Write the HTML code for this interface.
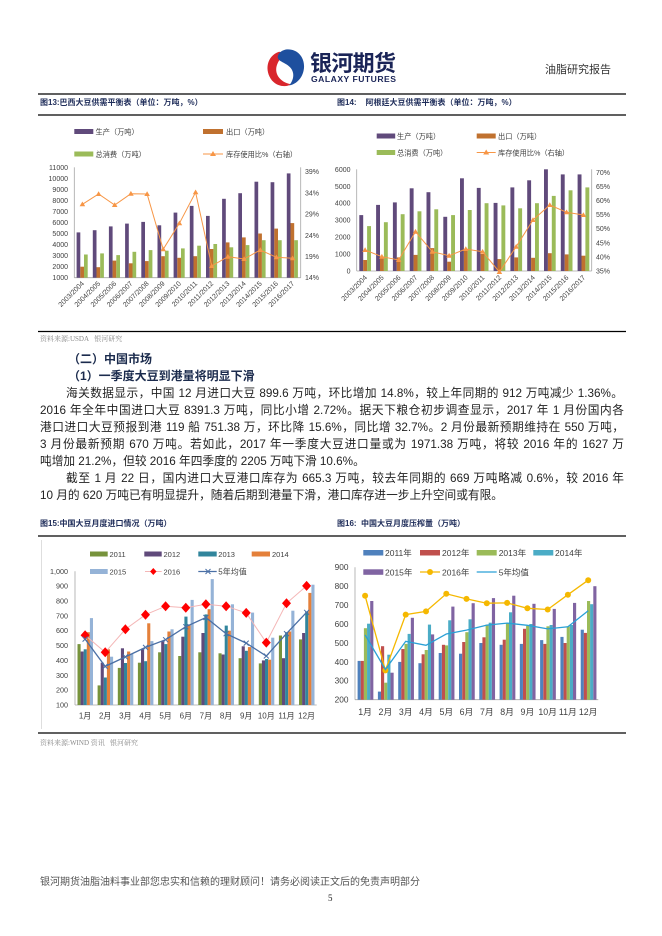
<!DOCTYPE html>
<html><head><meta charset="utf-8">
<style>
html,body{margin:0;padding:0;background:#fff;}
body{width:662px;height:936px;position:relative;overflow:hidden;font-family:"Liberation Sans","Noto Sans CJK SC",sans-serif;}
.a{position:absolute;white-space:nowrap;}
.ln{position:absolute;height:16px;line-height:16px;font-size:11.7px;color:#222;white-space:nowrap;}
.j{text-align:justify;text-align-last:justify;white-space:normal;overflow:hidden;}
.tt{position:absolute;font-size:8px;font-weight:bold;color:#1f2d5a;line-height:10px;white-space:nowrap;}
.src{position:absolute;font-size:7px;color:#8a8a8a;font-family:"Liberation Serif","Noto Serif CJK SC",serif;line-height:9px;white-space:nowrap;}
.h{position:absolute;font-size:12px;font-weight:bold;color:#1b2b4d;line-height:16px;white-space:nowrap;}
svg{position:absolute;left:0;top:0;}
</style></head><body>
<svg width="662" height="936" viewBox="0 0 662 936" font-family="Liberation Sans, Noto Sans CJK SC, sans-serif">
<defs>
<marker id="tri" markerUnits="userSpaceOnUse" markerWidth="8" markerHeight="8" refX="4" refY="4" viewBox="0 0 8 8"><path d="M4,1.2 L6.8,6 L1.2,6Z" fill="#f79646"/></marker>
<marker id="dia" markerUnits="userSpaceOnUse" markerWidth="11" markerHeight="11" refX="5.5" refY="5.5" viewBox="0 0 11 11"><path d="M5.5,0.5 L10,5.5 L5.5,10.5 L1,5.5Z" fill="#ff0000"/></marker>
<marker id="xm" markerUnits="userSpaceOnUse" markerWidth="8" markerHeight="8" refX="4" refY="4" viewBox="0 0 8 8"><path d="M1.5,1.5 L6.5,6.5 M6.5,1.5 L1.5,6.5" stroke="#4a6fa5" stroke-width="1"/></marker>
<marker id="cir" markerUnits="userSpaceOnUse" markerWidth="8" markerHeight="8" refX="4" refY="4" viewBox="0 0 8 8"><circle cx="4" cy="4" r="3" fill="#f5b800"/></marker>
</defs>

<!-- Logo -->
<g transform="translate(285,68) rotate(-10)">
<path d="M -3,-17 C -16,-15 -21,-1 -15,10 C -10,18 -1,19 3,17 C -8,13 -12,3 -7,-5 C -4,-10 0,-13 5,-14 Z" fill="#d9262c"/>
<path d="M 5,-18 C 15,-17 21,-8 19,2 C 17,12 9,18 1,18 C 7,13 9,6 5,0 C 1,-6 -7,-8 -5,-13 C -3,-17 1,-18 5,-18 Z" fill="#1e4f9e"/>
</g>
<text x="310" y="71" font-size="22" font-weight="bold" fill="#1a2457" textLength="86">银河期货</text>
<text x="311" y="82" font-size="8.6" font-weight="bold" fill="#1a2457" textLength="85">GALAXY FUTURES</text>

<!-- section lines -->
<g stroke="#000" stroke-width="1.2">
<line x1="38" y1="94" x2="626" y2="94"/>
<line x1="38" y1="115" x2="626" y2="115"/>
<line x1="38" y1="331.5" x2="626" y2="331.5"/>
<line x1="38" y1="536" x2="626" y2="536"/>
<line x1="38" y1="733" x2="626" y2="733"/>
</g>

<!-- ================= Chart 13 ================= -->
<g font-size="7.2" fill="#404040">
<rect x="74.3" y="129" width="19" height="5" fill="#604a7b"/><text x="95.5" y="134.5">生产（万吨）</text>
<rect x="203" y="129" width="20" height="5" fill="#c0712f"/><text x="226" y="134.5">出口（万吨）</text>
<rect x="74.3" y="151.5" width="19" height="5" fill="#9bbb59"/><text x="95.5" y="157">总消费（万吨）</text>
<line x1="203" y1="154" x2="223" y2="154" stroke="#f79646" stroke-width="1"/><path d="M213,151 L216,156 L210,156Z" fill="#f79646"/><text x="226" y="157">库存使用比%（右轴）</text>
</g>
<g stroke="#a6a6a6" stroke-width="0.8">
<line x1="74.3" y1="167.3" x2="74.3" y2="277.7"/>
<line x1="74.3" y1="277.7" x2="300.7" y2="277.7"/>
<line x1="300.7" y1="167.3" x2="300.7" y2="277.7"/>
</g>
<g font-size="7" fill="#404040" text-anchor="end">
<text x="68" y="280.2">1000</text><text x="68" y="269.2">2000</text><text x="68" y="258.1">3000</text><text x="68" y="247.1">4000</text><text x="68" y="236">5000</text><text x="68" y="225">6000</text><text x="68" y="214">7000</text><text x="68" y="202.9">8000</text><text x="68" y="191.9">9000</text><text x="68" y="180.8">10000</text><text x="68" y="169.8">11000</text>
</g>
<g font-size="7" fill="#404040">
<text x="305" y="280.2">14%</text><text x="305" y="259">19%</text><text x="305" y="237.8">24%</text><text x="305" y="216.6">29%</text><text x="305" y="195.4">34%</text><text x="305" y="174.2">39%</text>
</g>
<g fill="#604a7b">
<rect x="76.6" y="232.4" width="3.7" height="45.3"/><rect x="92.8" y="230.2" width="3.7" height="47.5"/><rect x="108.9" y="226.4" width="3.7" height="51.3"/><rect x="125.1" y="223.6" width="3.7" height="54.1"/><rect x="141.3" y="221.9" width="3.7" height="55.8"/><rect x="157.5" y="225.3" width="3.7" height="52.4"/><rect x="173.6" y="212.6" width="3.7" height="65.1"/><rect x="189.8" y="205.9" width="3.7" height="71.8"/><rect x="206" y="215.9" width="3.7" height="61.8"/><rect x="222.1" y="198.8" width="3.7" height="78.9"/><rect x="238.3" y="193.2" width="3.7" height="84.5"/><rect x="254.5" y="181.7" width="3.7" height="96"/><rect x="270.6" y="182.2" width="3.7" height="95.5"/><rect x="286.8" y="173.4" width="3.7" height="104.3"/>
</g>
<g fill="#c0712f">
<rect x="80.3" y="266.7" width="3.7" height="11"/><rect x="96.5" y="267.2" width="3.7" height="10.5"/><rect x="112.6" y="260.6" width="3.7" height="17.1"/><rect x="128.8" y="263.3" width="3.7" height="14.4"/><rect x="145" y="261.1" width="3.7" height="16.6"/><rect x="161.2" y="256.2" width="3.7" height="21.5"/><rect x="177.3" y="257.8" width="3.7" height="19.9"/><rect x="193.5" y="256.2" width="3.7" height="21.5"/><rect x="209.7" y="249" width="3.7" height="28.7"/><rect x="225.8" y="242.4" width="3.7" height="35.3"/><rect x="242" y="237.4" width="3.7" height="40.3"/><rect x="258.2" y="233.5" width="3.7" height="44.2"/><rect x="274.3" y="228.6" width="3.7" height="49.1"/><rect x="290.5" y="223.1" width="3.7" height="54.6"/>
</g>
<g fill="#9bbb59">
<rect x="84" y="254.5" width="3.7" height="23.2"/><rect x="100.2" y="253.4" width="3.7" height="24.3"/><rect x="116.3" y="255.1" width="3.7" height="22.6"/><rect x="132.5" y="251.8" width="3.7" height="25.9"/><rect x="148.7" y="250.1" width="3.7" height="27.6"/><rect x="164.9" y="250.7" width="3.7" height="27"/><rect x="181" y="248.4" width="3.7" height="29.3"/><rect x="197.2" y="245.7" width="3.7" height="32"/><rect x="213.4" y="244" width="3.7" height="33.7"/><rect x="229.5" y="247.3" width="3.7" height="30.4"/><rect x="245.7" y="245.1" width="3.7" height="32.6"/><rect x="261.9" y="240.2" width="3.7" height="37.5"/><rect x="278" y="240.2" width="3.7" height="37.5"/><rect x="294.2" y="240.2" width="3.7" height="37.5"/>
</g>
<polyline fill="none" stroke="#f79646" stroke-width="1" marker-start="url(#tri)" marker-mid="url(#tri)" marker-end="url(#tri)" points="82.4,204.3 98.6,194 114.7,205 130.9,193.7 147.1,194 163.2,249.3 179.4,223.3 195.6,192.3 211.7,266 227.9,256.7 244.1,259 260.3,250 276.4,257.3 292.6,258.3"/>
<g font-size="7" fill="#404040" text-anchor="end">
<text transform="translate(84.5,284) rotate(-45)">2003/2004</text>
<text transform="translate(100.7,284) rotate(-45)">2004/2005</text>
<text transform="translate(116.8,284) rotate(-45)">2005/2006</text>
<text transform="translate(133,284) rotate(-45)">2006/2007</text>
<text transform="translate(149.2,284) rotate(-45)">2007/2008</text>
<text transform="translate(165.3,284) rotate(-45)">2008/2009</text>
<text transform="translate(181.5,284) rotate(-45)">2009/2010</text>
<text transform="translate(197.7,284) rotate(-45)">2010/2011</text>
<text transform="translate(213.8,284) rotate(-45)">2011/2012</text>
<text transform="translate(230,284) rotate(-45)">2012/2013</text>
<text transform="translate(246.2,284) rotate(-45)">2013/2014</text>
<text transform="translate(262.4,284) rotate(-45)">2014/2015</text>
<text transform="translate(278.5,284) rotate(-45)">2015/2016</text>
<text transform="translate(294.7,284) rotate(-45)">2016/2017</text>
</g>

<!-- ================= Chart 14 ================= -->
<g font-size="7.2" fill="#404040">
<rect x="376.7" y="133.5" width="18.5" height="5" fill="#604a7b"/><text x="397" y="139">生产（万吨）</text>
<rect x="476.7" y="133.5" width="19" height="5" fill="#c0712f"/><text x="498" y="139">出口（万吨）</text>
<rect x="376.7" y="150" width="18.5" height="5" fill="#9bbb59"/><text x="397" y="155.5">总消费（万吨）</text>
<line x1="476.7" y1="152.5" x2="495.7" y2="152.5" stroke="#f79646" stroke-width="1"/><path d="M486.2,149.5 L489.2,154.5 L483.2,154.5Z" fill="#f79646"/><text x="498" y="155.5">库存使用比%（右轴）</text>
</g>
<g stroke="#a6a6a6" stroke-width="0.8">
<line x1="356.7" y1="169.3" x2="356.7" y2="271"/>
<line x1="356.7" y1="271" x2="591.7" y2="271"/>
<line x1="591.7" y1="169.3" x2="591.7" y2="271"/>
</g>
<g font-size="7" fill="#404040" text-anchor="end">
<text x="350.5" y="273.5">0</text><text x="350.5" y="256.6">1000</text><text x="350.5" y="239.6">2000</text><text x="350.5" y="222.7">3000</text><text x="350.5" y="205.7">4000</text><text x="350.5" y="188.8">5000</text><text x="350.5" y="171.8">6000</text>
</g>
<g font-size="7" fill="#404040">
<text x="596" y="273.5">35%</text><text x="596" y="259.4">40%</text><text x="596" y="245.3">45%</text><text x="596" y="231.2">50%</text><text x="596" y="217.1">55%</text><text x="596" y="203">60%</text><text x="596" y="188.9">65%</text><text x="596" y="174.8">70%</text>
</g>
<g fill="#604a7b">
<rect x="359.3" y="215.1" width="3.9" height="55.9"/><rect x="376.1" y="204.9" width="3.9" height="66.1"/><rect x="392.9" y="202.4" width="3.9" height="68.6"/><rect x="409.7" y="188.3" width="3.9" height="82.7"/><rect x="426.5" y="192.2" width="3.9" height="78.8"/><rect x="443.3" y="216.8" width="3.9" height="54.2"/><rect x="460" y="178.3" width="3.9" height="92.7"/><rect x="476.8" y="187.9" width="3.9" height="83.1"/><rect x="493.6" y="202.9" width="3.9" height="68.1"/><rect x="510.4" y="187.4" width="3.9" height="83.6"/><rect x="527.2" y="180.3" width="3.9" height="90.7"/><rect x="544" y="169.3" width="3.9" height="101.7"/><rect x="560.8" y="174.4" width="3.9" height="96.6"/><rect x="577.6" y="174.4" width="3.9" height="96.6"/>
</g>
<g fill="#c0712f">
<rect x="363.2" y="260" width="3.9" height="11"/><rect x="380" y="257.4" width="3.9" height="13.6"/><rect x="396.8" y="257.4" width="3.9" height="13.6"/><rect x="413.6" y="254.9" width="3.9" height="16.1"/><rect x="430.4" y="248.1" width="3.9" height="22.9"/><rect x="447.2" y="261.7" width="3.9" height="9.3"/><rect x="463.9" y="249" width="3.9" height="22"/><rect x="480.7" y="254" width="3.9" height="17"/><rect x="497.5" y="259.1" width="3.9" height="11.9"/><rect x="514.3" y="257.4" width="3.9" height="13.6"/><rect x="531.1" y="257.8" width="3.9" height="13.2"/><rect x="547.9" y="253.2" width="3.9" height="17.8"/><rect x="564.7" y="254.4" width="3.9" height="16.6"/><rect x="581.5" y="255.7" width="3.9" height="15.3"/>
</g>
<g fill="#9bbb59">
<rect x="367.1" y="226.1" width="3.9" height="44.9"/><rect x="383.9" y="222.2" width="3.9" height="48.8"/><rect x="400.7" y="214.2" width="3.9" height="56.8"/><rect x="417.5" y="211.3" width="3.9" height="59.7"/><rect x="434.3" y="209.3" width="3.9" height="61.7"/><rect x="451.1" y="215.1" width="3.9" height="55.9"/><rect x="467.8" y="210" width="3.9" height="61"/><rect x="484.6" y="203.2" width="3.9" height="67.8"/><rect x="501.4" y="205.4" width="3.9" height="65.6"/><rect x="518.2" y="208.3" width="3.9" height="62.7"/><rect x="535" y="203.2" width="3.9" height="67.8"/><rect x="551.8" y="195.9" width="3.9" height="75.1"/><rect x="568.6" y="190.3" width="3.9" height="80.7"/><rect x="585.4" y="187.4" width="3.9" height="83.6"/>
</g>
<polyline fill="none" stroke="#f79646" stroke-width="1" marker-start="url(#tri)" marker-mid="url(#tri)" marker-end="url(#tri)" points="365.1,250 381.9,256.7 398.7,260 415.5,231.7 432.3,251.7 449.1,255.7 465.8,249 482.6,251.7 499.4,272 516.2,246.7 533,220 549.8,205 566.6,212.3 583.4,215"/>
<g font-size="7" fill="#404040" text-anchor="end">
<text transform="translate(367.5,278) rotate(-45)">2003/2004</text>
<text transform="translate(384.3,278) rotate(-45)">2004/2005</text>
<text transform="translate(401.1,278) rotate(-45)">2005/2006</text>
<text transform="translate(417.9,278) rotate(-45)">2006/2007</text>
<text transform="translate(434.7,278) rotate(-45)">2007/2008</text>
<text transform="translate(451.5,278) rotate(-45)">2008/2009</text>
<text transform="translate(468.2,278) rotate(-45)">2009/2010</text>
<text transform="translate(485,278) rotate(-45)">2010/2011</text>
<text transform="translate(501.8,278) rotate(-45)">2011/2012</text>
<text transform="translate(518.6,278) rotate(-45)">2012/2013</text>
<text transform="translate(535.4,278) rotate(-45)">2013/2014</text>
<text transform="translate(552.2,278) rotate(-45)">2014/2015</text>
<text transform="translate(569,278) rotate(-45)">2015/2016</text>
<text transform="translate(585.8,278) rotate(-45)">2016/2017</text>
</g>

<!-- ================= Chart 15 ================= -->
<line x1="41.5" y1="540" x2="41.5" y2="729" stroke="#d6d6d6" stroke-width="0.8"/>
<g font-size="7.5" fill="#404040">
<rect x="90" y="551.5" width="17.7" height="5" fill="#77933c"/><text x="109.5" y="557">2011</text>
<rect x="144.3" y="551.5" width="17.4" height="5" fill="#604a7b"/><text x="163.5" y="557">2012</text>
<rect x="198.3" y="551.5" width="18.4" height="5" fill="#31859c"/><text x="218.3" y="557">2013</text>
<rect x="251.7" y="551.5" width="18.3" height="5" fill="#e4803a"/><text x="272" y="557">2014</text>
<rect x="90" y="569" width="17.7" height="5" fill="#95b3d7"/><text x="109.5" y="574.3">2015</text>
<line x1="145" y1="571.5" x2="161.7" y2="571.5" stroke="#f4b6b6" stroke-width="1"/><path d="M153.3,568 L156.5,571.5 L153.3,575 L150.1,571.5Z" fill="#ff0000"/><text x="163.5" y="574.3">2016</text>
<line x1="198.3" y1="571.5" x2="216.7" y2="571.5" stroke="#4a6fa5" stroke-width="1.2"/><path d="M205.5,569 L210.5,574 M210.5,569 L205.5,574" stroke="#4a6fa5" stroke-width="1"/><text x="218.3" y="574.3" font-size="8">5年均值</text>
</g>
<g stroke="#a6a6a6" stroke-width="0.8">
<line x1="75" y1="571.3" x2="75" y2="705"/>
<line x1="75" y1="705" x2="316.7" y2="705"/>
</g>
<g font-size="7.2" fill="#404040" text-anchor="end">
<text x="68" y="707.5">100</text><text x="68" y="692.6">200</text><text x="68" y="677.8">300</text><text x="68" y="662.9">400</text><text x="68" y="648.1">500</text><text x="68" y="633.2">600</text><text x="68" y="618.4">700</text><text x="68" y="603.5">800</text><text x="68" y="588.6">900</text><text x="68" y="573.8">1,000</text>
</g>
<g fill="#77933c">
<rect x="77.5" y="644.1" width="3.1" height="60.9"/><rect x="97.6" y="685.4" width="3.1" height="19.6"/><rect x="117.8" y="667.9" width="3.1" height="37.1"/><rect x="137.9" y="662.7" width="3.1" height="42.3"/><rect x="158.1" y="652.3" width="3.1" height="52.7"/><rect x="178.2" y="656" width="3.1" height="49"/><rect x="198.3" y="652.3" width="3.1" height="52.7"/><rect x="218.5" y="653.3" width="3.1" height="51.7"/><rect x="238.6" y="658.2" width="3.1" height="46.8"/><rect x="258.8" y="663.4" width="3.1" height="41.6"/><rect x="278.9" y="635.5" width="3.1" height="69.5"/><rect x="299" y="639.4" width="3.1" height="65.6"/>
</g>
<g fill="#604a7b">
<rect x="80.6" y="651.5" width="3.1" height="53.5"/><rect x="100.7" y="662.7" width="3.1" height="42.3"/><rect x="120.9" y="648.3" width="3.1" height="56.7"/><rect x="141" y="648.6" width="3.1" height="56.4"/><rect x="161.2" y="641.1" width="3.1" height="63.9"/><rect x="181.3" y="636.7" width="3.1" height="68.3"/><rect x="201.4" y="633" width="3.1" height="72"/><rect x="221.6" y="654.5" width="3.1" height="50.5"/><rect x="241.7" y="646.3" width="3.1" height="58.7"/><rect x="261.9" y="660.4" width="3.1" height="44.6"/><rect x="282" y="658.2" width="3.1" height="46.8"/><rect x="302.1" y="633" width="3.1" height="72"/>
</g>
<g fill="#31859c">
<rect x="83.7" y="649.3" width="3.1" height="55.7"/><rect x="103.8" y="677.5" width="3.1" height="27.5"/><rect x="124" y="663" width="3.1" height="42"/><rect x="144.1" y="661.2" width="3.1" height="43.8"/><rect x="164.3" y="644.1" width="3.1" height="60.9"/><rect x="184.4" y="616.6" width="3.1" height="88.4"/><rect x="204.5" y="614.4" width="3.1" height="90.6"/><rect x="224.7" y="625.6" width="3.1" height="79.4"/><rect x="244.8" y="650.8" width="3.1" height="54.2"/><rect x="265" y="659" width="3.1" height="46"/><rect x="285.1" y="632.2" width="3.1" height="72.8"/><rect x="305.2" y="611.4" width="3.1" height="93.6"/>
</g>
<g fill="#e4803a">
<rect x="86.8" y="632.2" width="3.1" height="72.8"/><rect x="106.9" y="649.3" width="3.1" height="55.7"/><rect x="127.1" y="651.5" width="3.1" height="53.5"/><rect x="147.2" y="623.3" width="3.1" height="81.7"/><rect x="167.4" y="631.5" width="3.1" height="73.5"/><rect x="187.5" y="624.8" width="3.1" height="80.2"/><rect x="207.6" y="609.2" width="3.1" height="95.8"/><rect x="227.8" y="630.7" width="3.1" height="74.3"/><rect x="247.9" y="647.1" width="3.1" height="57.9"/><rect x="268.1" y="659.7" width="3.1" height="45.3"/><rect x="288.2" y="631.5" width="3.1" height="73.5"/><rect x="308.3" y="592.9" width="3.1" height="112.1"/>
</g>
<g fill="#95b3d7">
<rect x="89.9" y="618.1" width="3.1" height="86.9"/><rect x="110" y="656.7" width="3.1" height="48.3"/><rect x="130.2" y="653.8" width="3.1" height="51.2"/><rect x="150.3" y="641.1" width="3.1" height="63.9"/><rect x="170.5" y="629.3" width="3.1" height="75.7"/><rect x="190.6" y="599.9" width="3.1" height="105.1"/><rect x="210.7" y="579.1" width="3.1" height="125.9"/><rect x="230.9" y="604.3" width="3.1" height="100.7"/><rect x="251" y="612.6" width="3.1" height="92.4"/><rect x="271.2" y="637.7" width="3.1" height="67.3"/><rect x="291.3" y="610.7" width="3.1" height="94.3"/><rect x="311.4" y="584.7" width="3.1" height="120.3"/>
</g>
<polyline fill="none" stroke="#f4b6b6" stroke-width="1" marker-start="url(#dia)" marker-mid="url(#dia)" marker-end="url(#dia)" points="85.1,635.2 105.2,652.3 125.4,629.3 145.5,614.7 165.6,606.2 185.8,607.7 205.9,604.3 226.1,606.2 246.2,612.9 266.3,642.6 286.5,603.3 306.6,585.9"/>
<polyline fill="none" stroke="#4a6fa5" stroke-width="1.3" marker-start="url(#xm)" marker-mid="url(#xm)" marker-end="url(#xm)" points="85.1,639.1 105.2,666.4 125.4,656.9 145.5,647.4 165.6,639.7 185.8,626.7 205.9,617.5 226.1,633.7 246.2,643.1 266.3,656 286.5,633.6 306.6,612.3"/>
<g font-size="8" fill="#404040" text-anchor="middle">
<text x="85.1" y="718.7">1月</text><text x="105.2" y="718.7">2月</text><text x="125.4" y="718.7">3月</text><text x="145.5" y="718.7">4月</text><text x="165.6" y="718.7">5月</text><text x="185.8" y="718.7">6月</text><text x="205.9" y="718.7">7月</text><text x="226.1" y="718.7">8月</text><text x="246.2" y="718.7">9月</text><text x="266.3" y="718.7">10月</text><text x="286.5" y="718.7">11月</text><text x="306.6" y="718.7">12月</text>
</g>

<!-- ================= Chart 16 ================= -->
<g font-size="8.5" fill="#404040">
<rect x="363.3" y="550" width="20" height="5.5" fill="#4f81bd"/><text x="385" y="556">2011年</text>
<rect x="420" y="550" width="20" height="5.5" fill="#c0504d"/><text x="442" y="556">2012年</text>
<rect x="476.7" y="550" width="20" height="5.5" fill="#9bbb59"/><text x="498.7" y="556">2013年</text>
<rect x="533.3" y="550" width="20" height="5.5" fill="#4bacc6"/><text x="555" y="556">2014年</text>
<rect x="363.3" y="569.3" width="20" height="5.5" fill="#8064a2"/><text x="385" y="575.3">2015年</text>
<line x1="420" y1="572" x2="440" y2="572" stroke="#f5b800" stroke-width="1.3"/><circle cx="430" cy="572" r="3" fill="#f5b800"/><text x="442" y="575.3">2016年</text>
<line x1="476.7" y1="572" x2="496.7" y2="572" stroke="#2aa0d6" stroke-width="1.3"/><text x="498.7" y="575.3">5年均值</text>
</g>
<g stroke="#a6a6a6" stroke-width="0.8">
<line x1="355" y1="567.3" x2="355" y2="699.7"/>
<line x1="355" y1="699.7" x2="598.3" y2="699.7"/>
</g>
<g font-size="8.3" fill="#404040" text-anchor="end">
<text x="348.5" y="702.6">200</text><text x="348.5" y="683.7">300</text><text x="348.5" y="664.8">400</text><text x="348.5" y="645.9">500</text><text x="348.5" y="626.9">600</text><text x="348.5" y="608">700</text><text x="348.5" y="589.1">800</text><text x="348.5" y="570.2">900</text>
</g>
<g fill="#4f81bd">
<rect x="357.6" y="660.9" width="3.15" height="38.8"/><rect x="377.9" y="691.6" width="3.15" height="8.1"/><rect x="398.2" y="661.9" width="3.15" height="37.8"/><rect x="418.4" y="663.2" width="3.15" height="36.5"/><rect x="438.7" y="653" width="3.15" height="46.7"/><rect x="459" y="653.7" width="3.15" height="46"/><rect x="479.3" y="643" width="3.15" height="56.7"/><rect x="499.6" y="644.8" width="3.15" height="54.9"/><rect x="519.8" y="643.9" width="3.15" height="55.8"/><rect x="540.1" y="640.1" width="3.15" height="59.6"/><rect x="560.4" y="636.9" width="3.15" height="62.8"/><rect x="580.7" y="629.7" width="3.15" height="70"/>
</g>
<g fill="#c0504d">
<rect x="360.75" y="660.9" width="3.15" height="38.8"/><rect x="381" y="646.2" width="3.15" height="53.5"/><rect x="401.3" y="649" width="3.15" height="50.7"/><rect x="421.6" y="654.3" width="3.15" height="45.4"/><rect x="441.9" y="644.8" width="3.15" height="54.9"/><rect x="462.2" y="642" width="3.15" height="57.7"/><rect x="482.4" y="637.3" width="3.15" height="62.4"/><rect x="502.7" y="639.7" width="3.15" height="60"/><rect x="523" y="628.8" width="3.15" height="70.9"/><rect x="543.3" y="643.9" width="3.15" height="55.8"/><rect x="563.6" y="643" width="3.15" height="56.7"/><rect x="583.8" y="632.9" width="3.15" height="66.8"/>
</g>
<g fill="#9bbb59">
<rect x="363.9" y="628.2" width="3.15" height="71.5"/><rect x="384.2" y="682.7" width="3.15" height="17"/><rect x="404.5" y="643.9" width="3.15" height="55.8"/><rect x="424.7" y="650" width="3.15" height="49.7"/><rect x="445" y="645.4" width="3.15" height="54.3"/><rect x="465.3" y="632.2" width="3.15" height="67.5"/><rect x="485.6" y="624.6" width="3.15" height="75.1"/><rect x="505.9" y="623.1" width="3.15" height="76.6"/><rect x="526.1" y="625.9" width="3.15" height="73.8"/><rect x="546.4" y="626.3" width="3.15" height="73.4"/><rect x="566.7" y="626.3" width="3.15" height="73.4"/><rect x="587" y="601" width="3.15" height="98.7"/>
</g>
<g fill="#4bacc6">
<rect x="367.05" y="623.7" width="3.15" height="76"/><rect x="387.3" y="654.7" width="3.15" height="45"/><rect x="407.6" y="633.9" width="3.15" height="65.8"/><rect x="427.9" y="624.6" width="3.15" height="75.1"/><rect x="448.2" y="620.3" width="3.15" height="79.4"/><rect x="468.5" y="619.3" width="3.15" height="80.4"/><rect x="488.7" y="622.7" width="3.15" height="77"/><rect x="509" y="612.3" width="3.15" height="87.4"/><rect x="529.3" y="624" width="3.15" height="75.7"/><rect x="549.6" y="625" width="3.15" height="74.7"/><rect x="569.9" y="625" width="3.15" height="74.7"/><rect x="590.1" y="604.2" width="3.15" height="95.5"/>
</g>
<g fill="#8064a2">
<rect x="370.2" y="601" width="3.15" height="98.7"/><rect x="390.5" y="672.7" width="3.15" height="27"/><rect x="410.8" y="617.8" width="3.15" height="81.9"/><rect x="431" y="634.4" width="3.15" height="65.3"/><rect x="451.3" y="606.6" width="3.15" height="93.1"/><rect x="471.6" y="603.2" width="3.15" height="96.5"/><rect x="491.9" y="598.1" width="3.15" height="101.6"/><rect x="512.2" y="595.7" width="3.15" height="104"/><rect x="532.4" y="603.8" width="3.15" height="95.9"/><rect x="552.7" y="608.9" width="3.15" height="90.8"/><rect x="573" y="602.9" width="3.15" height="96.8"/><rect x="593.3" y="586.2" width="3.15" height="113.5"/>
</g>
<polyline fill="none" stroke="#f5b800" stroke-width="1.3" marker-start="url(#cir)" marker-mid="url(#cir)" marker-end="url(#cir)" points="365.1,595.7 385.4,670.4 405.7,614.6 426,611.4 446.3,593.8 466.5,598.9 486.8,603.2 507.1,602.9 527.4,608.3 547.7,609.5 567.9,594.7 588.2,580.2"/>
<polyline fill="none" stroke="#2aa0d6" stroke-width="1.3" points="365.1,634.9 385.4,669.5 405.7,641.3 426,645.3 446.3,634 466.5,630.1 486.8,625.1 507.1,623.1 527.4,625.3 547.7,628.9 567.9,626.8 588.2,610.8"/>
<g font-size="8.8" fill="#404040" text-anchor="middle">
<text x="365.1" y="715">1月</text><text x="385.4" y="715">2月</text><text x="405.7" y="715">3月</text><text x="426" y="715">4月</text><text x="446.3" y="715">5月</text><text x="466.5" y="715">6月</text><text x="486.8" y="715">7月</text><text x="507.1" y="715">8月</text><text x="527.4" y="715">9月</text><text x="547.7" y="715">10月</text><text x="567.9" y="715">11月</text><text x="588.2" y="715">12月</text>
</g>
</svg>

<div class="a" style="left:545px;top:62px;font-size:11px;color:#333;line-height:16px;">油脂研究报告</div>

<div class="tt" style="left:40px;top:98px;">图13:巴西大豆供需平衡表（单位：万吨，%）</div>
<div class="tt" style="left:337px;top:98px;">图14:&nbsp;&nbsp;&nbsp;&nbsp;阿根廷大豆供需平衡表（单位：万吨，%）</div>

<div class="src" style="left:40px;top:335px;">资料来源:USDA&nbsp;&nbsp;&nbsp;银河研究</div>

<div class="h" style="left:68px;top:351px;">（二）中国市场</div>
<div class="h" style="left:68px;top:368px;">（1）一季度大豆到港量将明显下滑</div>

<div class="ln j" style="left:66px;top:386px;width:557px;">海关数据显示，中国 12 月进口大豆 899.6 万吨，环比增加 14.8%，较上年同期的 912 万吨减少 1.36%。</div>
<div class="ln j" style="left:40px;top:403px;width:584px;">2016 年全年中国进口大豆 8391.3 万吨，同比小增 2.72%。据天下粮仓初步调查显示，2017 年 1 月份国内各</div>
<div class="ln j" style="left:40px;top:420px;width:584px;">港口进口大豆预报到港 119 船 751.38 万，环比降 15.6%，同比增 32.7%。2 月份最新预期维持在 550 万吨，</div>
<div class="ln j" style="left:40px;top:437px;width:584px;">3 月份最新预期 670 万吨。若如此，2017 年一季度大豆进口量或为 1971.38 万吨，将较 2016 年的 1627 万</div>
<div class="ln" style="left:40px;top:454px;">吨增加 21.2%，但较 2016 年四季度的 2205 万吨下滑 10.6%。</div>
<div class="ln j" style="left:66px;top:471px;width:558px;">截至 1 月 22 日，国内进口大豆港口库存为 665.3 万吨，较去年同期的 669 万吨略减 0.6%，较 2016 年</div>
<div class="ln" style="left:40px;top:488px;">10 月的 620 万吨已有明显提升，随着后期到港量下滑，港口库存进一步上升空间或有限。</div>

<div class="tt" style="left:40px;top:519px;">图15:中国大豆月度进口情况（万吨）</div>
<div class="tt" style="left:337px;top:519px;">图16:&nbsp;&nbsp;中国大豆月度压榨量（万吨）</div>

<div class="src" style="left:40px;top:739px;">资料来源:WIND 资讯&nbsp;&nbsp;&nbsp;银河研究</div>

<div class="a" style="left:40px;top:877px;font-size:10px;color:#555;line-height:12px;">银河期货油脂油料事业部您忠实和信赖的理财顾问！请务必阅读正文后的免责声明部分</div>
<div class="a" style="left:328px;top:892px;font-size:9px;color:#222;font-family:'Liberation Serif',serif;line-height:12px;">5</div>
</body></html>
